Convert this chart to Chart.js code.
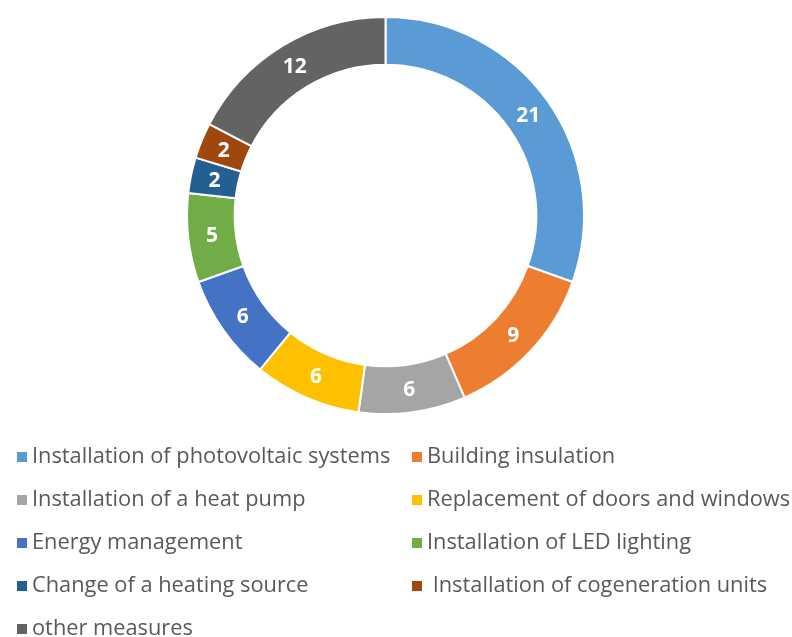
<!DOCTYPE html>
<html>
<head>
<meta charset="utf-8">
<script src="https://cdn.jsdelivr.net/npm/chart.js@4"></script>
<style>
  html, body { margin: 0; padding: 0; background: #fff; }
  #wrap { width: 792px; height: 637px; }
</style>
</head>
<body>
<div id="wrap"><canvas id="donut" width="792" height="637"></canvas></div>
<script>
// Data
const categories = [
    'Installation of photovoltaic systems',
    'Building insulation',
    'Installation of a heat pump',
    'Replacement of doors and windows',
    'Energy management',
    'Installation of LED lighting',
    'Change of a heating source',
    ' Installation of cogeneration units',
    'other measures'
];
const counts = [21, 9, 6, 6, 6, 5, 2, 2, 12];
const colors = ['#5B9BD5', '#ED7D31', '#A5A5A5', '#FFC000', '#4472C4', '#70AD47', '#255E91', '#9E480E', '#636363'];

// white numbers in the middle of each ring segment
const sliceLabels = {
    id: 'sliceLabels',
    afterDatasetsDraw(chart) {
        const ctx = chart.ctx;
        const meta = chart.getDatasetMeta(0);
        ctx.save();
        ctx.fillStyle = '#ffffff';
        ctx.font = 'bold 21px "Open Sans", sans-serif';
        ctx.textAlign = 'center';
        ctx.textBaseline = 'middle';
        meta.data.forEach((arc, i) => {
            const p = arc.tooltipPosition();
            ctx.fillText(String(counts[i]), p.x, p.y + 1);
        });
        ctx.restore();
    }
};

// two column legend like the original
const gridLegend = {
    id: 'gridLegend',
    afterDraw(chart) {
        const ctx = chart.ctx;
        const cols = [17, 412];
        const rowTop = 457, rowStep = 43;
        ctx.save();
        ctx.font = '21.8px "Open Sans", sans-serif';
        ctx.textBaseline = 'middle';
        categories.forEach((name, i) => {
            const x = cols[i % 2];
            const y = rowTop + Math.floor(i / 2) * rowStep;
            ctx.fillStyle = colors[i];
            ctx.fillRect(x, y - 5, 10, 10);
            ctx.fillStyle = '#595959';
            ctx.fillText(name, x + 15, y);
        });
        ctx.restore();
    }
};

const chart = new Chart(document.getElementById('donut'), {
    type: 'doughnut',
    data: {
        labels: categories,
        datasets: [{
            data: counts,
            backgroundColor: colors,
            borderColor: '#ffffff',
            borderWidth: 2,
            hoverOffset: 0
        }]
    },
    options: {
        responsive: false,
        animation: false,
        cutout: '76%',
        layout: { padding: { top: 16, bottom: 222, left: 0, right: 21 } },
        plugins: {
            legend: { display: false },
            tooltip: { enabled: false }
        }
    },
    plugins: [sliceLabels, gridLegend]
});
</script>
</body>
</html>
